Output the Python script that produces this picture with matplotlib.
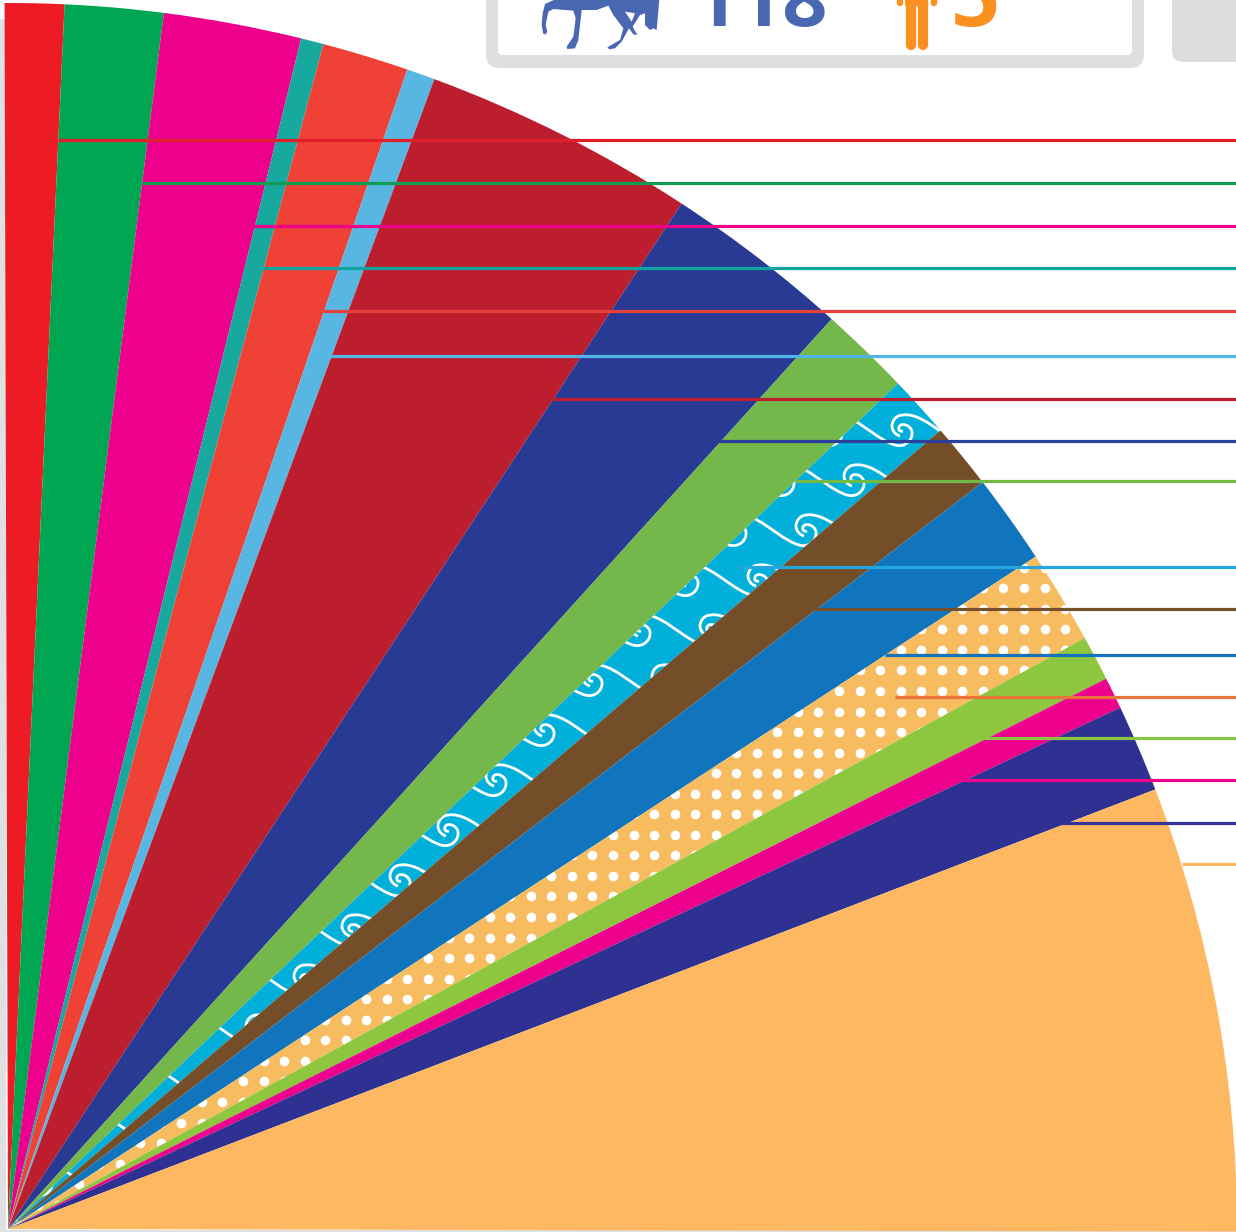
import matplotlib
matplotlib.use('Agg')
import matplotlib.pyplot as plt
import numpy as np
from matplotlib.patches import FancyBboxPatch, Polygon, PathPatch, Rectangle
from matplotlib.path import Path

# slice widths in degrees
slice_deg = [2.80, 4.65, 6.51, 1.07, 4.09, 1.34, 12.94, 8.84, 4.32, 2.95, 3.12, 4.27, 4.44, 2.15, 1.50, 4.16, 21.13]
slice_col = ['#ed1c24', '#00a651', '#ec008c', '#17a89e', '#ef4136', '#58b7e2', '#bc1e2d', '#283a93', '#74b74b',
             '#00b0da', '#734e28', '#1075bc', '#f8bc60', '#8dc63f', '#ec008c', '#2e3192', '#fdb861']

# leader lines
line_y = [139.7, 182.7, 225.7, 267.7, 310.7, 355.7, 398.7, 440.7, 481.2, 566.7, 608.7, 654.7, 696.7, 738.2, 779.7, 822.7, 864.2]
line_x0 = [58, 142, 253, 262, 323, 330, 552, 718, 795, 738, 808, 885, 895, 980, 960, 1060, 1182]
line_col = ['#e11f2b', '#109a52', '#ec008c', '#12a29f', '#e5403b', '#52b3e6', '#bb1e2f', '#2c3f9a', '#72b948',
            '#25a5e0', '#75502a', '#1473bd', '#e8743b', '#8dc445', '#ec008c', '#35309a', '#fdb861']

horse_count = '118'
person_count = '5'

W, H = 1236, 1232
CX, CY, RX, RY = 8, 1229, 1229, 1226

fig = plt.figure(figsize=(W / 100, H / 100), dpi=100)

# the fan is slightly flatter than a circle, so it gets its own axes
fan = fig.add_axes([0, 0, 1, 1])
wedges, _ = fan.pie(np.array(slice_deg) / 360, normalize=False, startangle=90.16, counterclock=False,
                    colors=slice_col, center=(CX, 0), radius=RX, wedgeprops={'linewidth': 0}, frame=True)
fan.set_aspect('auto')
fan.set_xlim(0, W)
fan.set_ylim((CY - H) * RX / RY, CY * RX / RY)
fan.axis('off')
fan.add_patch(Rectangle((0, (CY - H) * RX / RY), 6, (H - 19) * RX / RY, fc='#dfe0e2', ec='none', zorder=0))
fan.add_patch(Rectangle((0, (CY - H) * RX / RY), W, 1.6, fc='#dfe0e2', ec='none', zorder=0))

# everything else is in picture pixels
ax = fig.add_axes([0, 0, 1, 1])
ax.patch.set_alpha(0)

# dotted fill of the pale orange slice
gx, gy = np.meshgrid(np.arange(839 - 20.55 * 41, 1100, 20.55), np.arange(691 - 20.55 * 7, 1240, 20.55))
dots = ax.scatter(gx.ravel(), gy.ravel(), s=48, c='white', linewidths=0, zorder=2)
dots.set_clip_path(wedges[12])

# wave fill of the cyan slice, one tile around each curl
M, C = Path.MOVETO, Path.CURVE4
tile_v = np.array([(-50, -8), (-38, -2), (-22, 13), (-8, 17), (2, 20), (10, 12), (9, 4), (8, -3), (-2, -6), (-4, -1),
                   (-5, 2), (-3, 4), (0, 3),
                   (20, -8), (13, -12), (5, -14), (0, -13), (-7, -13), (-11, -7), (-11, -2), (-11, 3), (-7, 7), (-3, 8)],
                  dtype=float)
tile_c = [M] + [C] * 12 + [M] + [C] * 9
verts, codes = [], []
for i in range(-2, 4):
    for j in range(-1, 22):
        verts.append(tile_v + (903 + 70 * i - 48 * j, 428 + 50 * j))
        codes += tile_c
wave = PathPatch(Path(np.vstack(verts), codes), fc='none', ec='white', lw=2.0, zorder=2)
ax.add_patch(wave)
wave.set_clip_path(wedges[9])

for y, x0, c in zip(line_y, line_x0, line_col):
    ax.plot([x0, W], [y, y], color=c, lw=2.3, solid_capstyle='butt', zorder=3)

# header boxes
ax.add_patch(FancyBboxPatch((486, -60), 658, 128, boxstyle='round,pad=0,rounding_size=14', fc='#dedfe0', ec='none', zorder=1))
ax.add_patch(FancyBboxPatch((498, -60), 634, 115, boxstyle='round,pad=0,rounding_size=5', fc='white', ec='none', zorder=1))
ax.add_patch(FancyBboxPatch((1172, -60), 120, 122, boxstyle='round,pad=0,rounding_size=11', fc='#dcddde', ec='none', zorder=1))

# horse icon, only the lower part is on the page
horse = [(78, -3), (45, 12), (38, 40), (35, 75), (40, 102), (47, 103), (52, 95), (47, 75), (55, 35), (70, 27), (130, 32),
         (137, 55), (130, 110), (110, 140), (112, 147), (135, 145), (145, 120), (155, 30), (200, 30), (235, 17), (250, 45),
         (280, 85), (270, 120), (232, 142), (238, 148), (255, 145), (275, 125), (297, 85), (310, 103), (322, 105), (308, 80),
         (330, 45), (345, 40), (345, 75), (360, 90), (370, 85), (380, 90), (388, -3)]
hole = [(285, 35), (315, 40), (305, 65)]
ax.add_patch(Polygon([(530 + x / 3, y / 3) for x, y in horse], fc='#4a67b1', ec='none', zorder=2))
ax.add_patch(Polygon([(530 + x / 3, y / 3) for x, y in hole], fc='white', ec='none', zorder=2))

ax.text(828, 26, horse_count, color='#4a67b1', fontsize=57, family='Open Sans', weight='bold', ha='right', va='baseline', zorder=2)

# person icon
ORANGE = '#f9901f'
ax.add_patch(Rectangle((905, -3), 23, 9, fc=ORANGE, ec='none', zorder=2))
ax.plot([910.5, 910.5], [0, 45], color=ORANGE, lw=7.4, solid_capstyle='round', zorder=2)
ax.plot([922.7, 922.7], [0, 45], color=ORANGE, lw=7.4, solid_capstyle='round', zorder=2)
ax.plot([899.7, 899.7], [-3, 3], color=ORANGE, lw=4.6, solid_capstyle='round', zorder=2)
ax.plot([933.5, 933.5], [-3, 3], color=ORANGE, lw=4.6, solid_capstyle='round', zorder=2)

ax.text(1000, 26, person_count, color=ORANGE, fontsize=62, family='Open Sans', weight='bold', ha='right', va='baseline', zorder=2)

ax.set_xlim(0, W)
ax.set_ylim(H, 0)
ax.axis('off')
fig.savefig('out.png', dpi=100, facecolor='white')
